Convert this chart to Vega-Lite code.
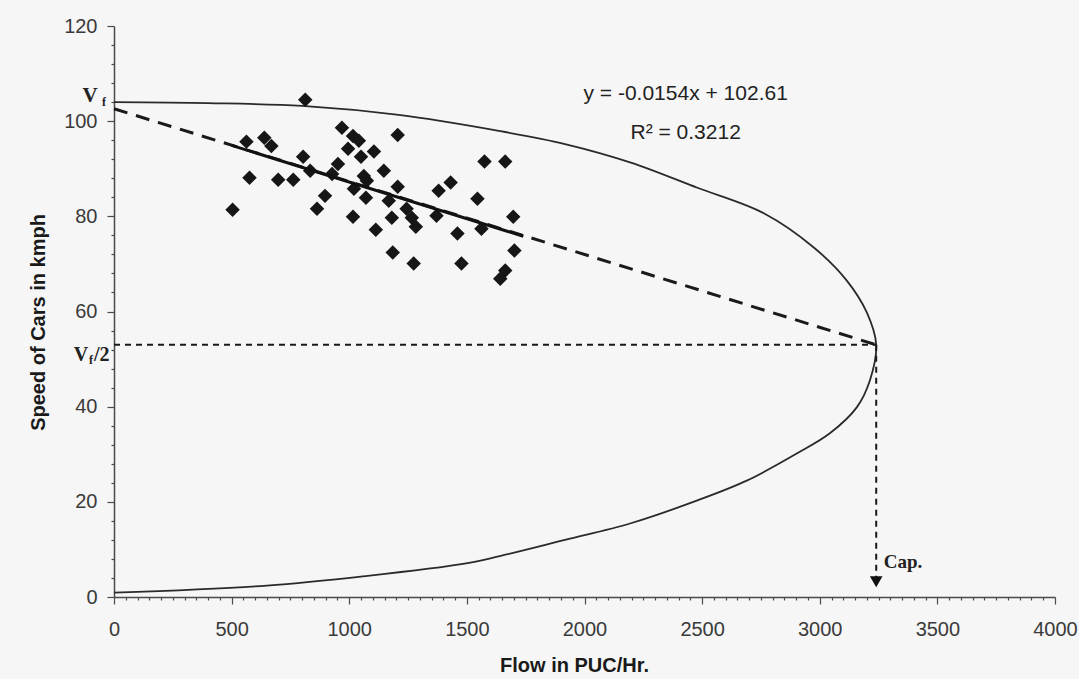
{
  "$schema": "https://vega.github.io/schema/vega-lite/v6.json",
  "autosize": {"type": "none"},
  "padding": {"left": 114, "top": 26, "right": 24, "bottom": 82},
  "width": 941,
  "height": 571,
  "background": "#f6f6f6",
  "config": {
    "view": {"stroke": null},
    "axis": {
      "labelFont": "Liberation Sans",
      "labelFontSize": 20,
      "labelColor": "#3a3a3a",
      "titleFont": "Liberation Sans",
      "titleFontSize": 20,
      "titleFontWeight": "bold",
      "titleColor": "#1a1a1a",
      "domainColor": "#4a4a4a",
      "domainWidth": 1.5,
      "tickColor": "#4a4a4a",
      "tickWidth": 1.2,
      "grid": false,
      "labelOverlap": false,
      "labelFlush": false,
      "labelBound": false,
      "format": "d"
    }
  },
  "datasets": {
    "pts": [
      {"flow": 813, "speed": 104.5}, {"flow": 969, "speed": 98.6}, {"flow": 563, "speed": 95.7},
      {"flow": 639, "speed": 96.5}, {"flow": 669, "speed": 94.8}, {"flow": 1206, "speed": 97.1},
      {"flow": 1016, "speed": 96.9}, {"flow": 1041, "speed": 95.9}, {"flow": 995, "speed": 94.2},
      {"flow": 1050, "speed": 92.5}, {"flow": 1105, "speed": 93.6}, {"flow": 804, "speed": 92.5},
      {"flow": 1575, "speed": 91.5}, {"flow": 1663, "speed": 91.5}, {"flow": 576, "speed": 88.1},
      {"flow": 698, "speed": 87.7}, {"flow": 762, "speed": 87.7}, {"flow": 834, "speed": 89.6},
      {"flow": 952, "speed": 91.0}, {"flow": 927, "speed": 88.9}, {"flow": 1062, "speed": 88.5},
      {"flow": 1075, "speed": 87.5}, {"flow": 1147, "speed": 89.6}, {"flow": 1020, "speed": 85.8},
      {"flow": 1071, "speed": 83.9}, {"flow": 1206, "speed": 86.2}, {"flow": 1168, "speed": 83.3},
      {"flow": 1380, "speed": 85.4}, {"flow": 1431, "speed": 87.1}, {"flow": 1545, "speed": 83.7},
      {"flow": 897, "speed": 84.3}, {"flow": 863, "speed": 81.6}, {"flow": 504, "speed": 81.4},
      {"flow": 1016, "speed": 79.9}, {"flow": 1113, "speed": 77.2}, {"flow": 1181, "speed": 79.7},
      {"flow": 1244, "speed": 81.6}, {"flow": 1266, "speed": 79.7}, {"flow": 1283, "speed": 77.8},
      {"flow": 1371, "speed": 80.1}, {"flow": 1460, "speed": 76.4}, {"flow": 1562, "speed": 77.4},
      {"flow": 1697, "speed": 79.9}, {"flow": 1185, "speed": 72.4}, {"flow": 1274, "speed": 70.1},
      {"flow": 1477, "speed": 70.1}, {"flow": 1702, "speed": 72.8}, {"flow": 1663, "speed": 68.6},
      {"flow": 1642, "speed": 66.9}
    ],
    "curve": [
      {"i": 1, "flow": 0, "speed": 104.0}, {"i": 2, "flow": 400, "speed": 103.8},
      {"i": 3, "flow": 800, "speed": 103.2}, {"i": 4, "flow": 1210, "speed": 101.3},
      {"i": 5, "flow": 1630, "speed": 98.0}, {"i": 6, "flow": 1917, "speed": 95.2},
      {"i": 7, "flow": 2197, "speed": 91.3}, {"i": 8, "flow": 2480, "speed": 86.0},
      {"i": 9, "flow": 2764, "speed": 80.6}, {"i": 10, "flow": 2976, "speed": 73.4},
      {"i": 11, "flow": 3115, "speed": 66.5}, {"i": 12, "flow": 3200, "speed": 59.8},
      {"i": 13, "flow": 3240, "speed": 53.0}, {"i": 14, "flow": 3213, "speed": 45.5},
      {"i": 15, "flow": 3158, "speed": 39.9}, {"i": 16, "flow": 3043, "speed": 34.4},
      {"i": 17, "flow": 2904, "speed": 30.2}, {"i": 18, "flow": 2692, "speed": 24.5},
      {"i": 19, "flow": 2480, "speed": 20.3}, {"i": 20, "flow": 2197, "speed": 15.5},
      {"i": 21, "flow": 1917, "speed": 12.0}, {"i": 22, "flow": 1640, "speed": 8.6},
      {"i": 23, "flow": 1490, "speed": 7.0}, {"i": 24, "flow": 1070, "speed": 4.4},
      {"i": 25, "flow": 650, "speed": 2.4}, {"i": 26, "flow": 0, "speed": 0.9}
    ],
    "extension": [{"flow": 0, "speed": 102.61}, {"flow": 3240, "speed": 53.0}],
    "trend": [{"flow": 500, "speed": 94.91}, {"flow": 1740, "speed": 75.81}],
    "guides": [
      {"x1": 0, "y1": 53.0, "x2": 3240, "y2": 53.0},
      {"x1": 3240, "y1": 53.0, "x2": 3240, "y2": 4.0}
    ],
    "arrow": [{"flow": 3240, "speed": 3.2}],
    "eq": [
      {"flow": 2430, "speed": 105.7, "label": "y = -0.0154x + 102.61"},
      {"flow": 2430, "speed": 97.5, "label": "R² = 0.3212"}
    ],
    "cap": [{"flow": 3272, "speed": 7.3, "label": "Cap."}],
    "vf": [{"flow": 0, "speed": 104.0}],
    "vf2": [{"flow": 0, "speed": 53.0}]
  },
  "encoding": {
    "x": {
      "field": "flow", "type": "quantitative",
      "scale": {"domain": [0, 4000], "nice": false},
      "axis": {
        "title": "Flow in PUC/Hr.",
        "values": [0,50,100,150,200,250,300,350,400,450,500,550,600,650,700,750,800,850,900,950,1000,1050,1100,1150,1200,1250,1300,1350,1400,1450,1500,1550,1600,1650,1700,1750,1800,1850,1900,1950,2000,2050,2100,2150,2200,2250,2300,2350,2400,2450,2500,2550,2600,2650,2700,2750,2800,2850,2900,2950,3000,3050,3100,3150,3200,3250,3300,3350,3400,3450,3500,3550,3600,3650,3700,3750,3800,3850,3900,3950,4000],
        "labelExpr": "datum.value % 500 === 0 ? datum.label : ''",
        "tickSize": {"condition": {"test": "datum.value % 500 === 0", "value": 7}, "value": 3},
        "labelPadding": 15,
        "titlePadding": 16,
        "titleX": 460
      }
    },
    "y": {
      "field": "speed", "type": "quantitative",
      "scale": {"domain": [0, 120], "nice": false},
      "axis": {
        "title": "Speed of Cars in kmph",
        "values": [0,4,8,12,16,20,24,28,32,36,40,44,48,52,56,60,64,68,72,76,80,84,88,92,96,100,104,108,112,116,120],
        "labelExpr": "datum.value % 20 === 0 ? datum.label : ''",
        "tickSize": {"condition": {"test": "datum.value % 20 === 0", "value": 7}, "value": 3},
        "labelPadding": 10,
        "titlePadding": 15,
        "titleY": 296
      }
    }
  },
  "layer": [
    {
      "data": {"name": "curve"},
      "mark": {"type": "line", "interpolate": "catmull-rom", "color": "#2a2a2a", "strokeWidth": 1.8},
      "encoding": {"order": {"field": "i", "type": "quantitative"}}
    },
    {
      "data": {"name": "extension"},
      "mark": {"type": "line", "color": "#1a1a1a", "strokeWidth": 3, "strokeDash": [14, 9]},
      "encoding": {}
    },
    {
      "data": {"name": "guides"},
      "mark": {"type": "rule", "color": "#1a1a1a", "strokeWidth": 2, "strokeDash": [6, 5]},
      "encoding": {
        "x": {"field": "x1", "type": "quantitative"},
        "y": {"field": "y1", "type": "quantitative"},
        "x2": {"field": "x2"},
        "y2": {"field": "y2"}
      }
    },
    {
      "data": {"name": "arrow"},
      "mark": {"type": "point", "shape": "triangle-down", "filled": true, "color": "#111", "size": 160, "opacity": 1},
      "encoding": {}
    },
    {
      "data": {"name": "pts"},
      "mark": {"type": "point", "shape": "diamond", "filled": true, "color": "#161616", "size": 210, "opacity": 1},
      "encoding": {}
    },
    {
      "data": {"name": "trend"},
      "mark": {"type": "line", "color": "#111", "strokeWidth": 3},
      "encoding": {}
    },
    {
      "data": {"name": "eq"},
      "mark": {"type": "text", "font": "Liberation Sans", "fontSize": 21, "color": "#222", "align": "center", "baseline": "middle"},
      "encoding": {"text": {"field": "label"}}
    },
    {
      "data": {"name": "cap"},
      "mark": {"type": "text", "font": "Liberation Serif", "fontSize": 19, "fontWeight": "bold", "color": "#222", "align": "left", "baseline": "middle"},
      "encoding": {"text": {"field": "label"}}
    },
    {
      "data": {"name": "vf"},
      "mark": {"type": "text", "text": "V", "font": "Liberation Serif", "fontSize": 21, "fontWeight": "bold", "color": "#222", "align": "center", "baseline": "middle", "dx": -24, "dy": -6},
      "encoding": {}
    },
    {
      "data": {"name": "vf"},
      "mark": {"type": "text", "text": "f", "font": "Liberation Serif", "fontSize": 12, "fontWeight": "bold", "color": "#222", "align": "center", "baseline": "middle", "dx": -10, "dy": 0},
      "encoding": {}
    },
    {
      "data": {"name": "vf2"},
      "mark": {"type": "text", "text": "V", "font": "Liberation Serif", "fontSize": 20, "fontWeight": "bold", "color": "#222", "align": "center", "baseline": "middle", "dx": -33, "dy": 10},
      "encoding": {}
    },
    {
      "data": {"name": "vf2"},
      "mark": {"type": "text", "text": "f", "font": "Liberation Serif", "fontSize": 12, "fontWeight": "bold", "color": "#222", "align": "center", "baseline": "middle", "dx": -23, "dy": 15},
      "encoding": {}
    },
    {
      "data": {"name": "vf2"},
      "mark": {"type": "text", "text": "/2", "font": "Liberation Serif", "fontSize": 20, "fontWeight": "bold", "color": "#222", "align": "left", "baseline": "middle", "dx": -20, "dy": 10},
      "encoding": {}
    }
  ]
}
